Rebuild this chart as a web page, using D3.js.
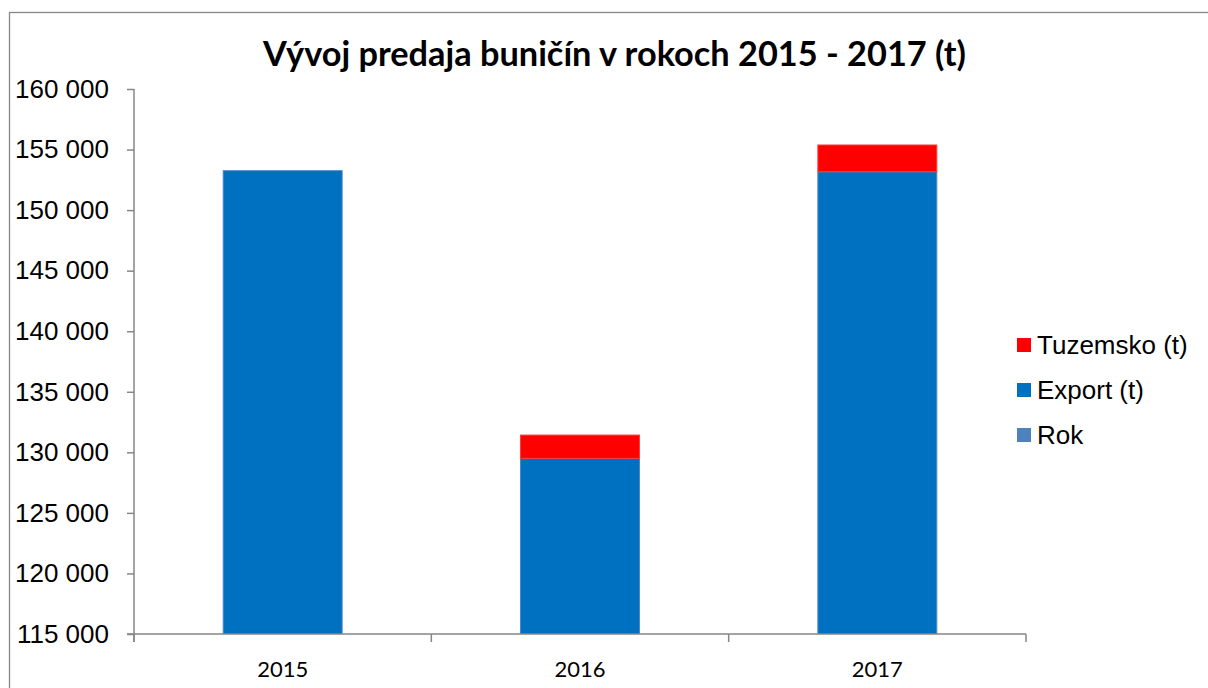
<!DOCTYPE html>
<html>
<head>
<meta charset="utf-8">
<script src="https://cdn.jsdelivr.net/npm/d3@7"></script>
<style>
  html, body { margin: 0; padding: 0; background: #fff; }
  svg { display: block; }
</style>
</head>
<body>
<svg id="chart" width="1208" height="688"></svg>
<script>
// ---- data ----
const title = "Vývoj predaja buničín v rokoch 2015 - 2017 (t)";
const categories = ["2015", "2016", "2017"];
const rok = [2015, 2016, 2017];
const exportT = [151240, 127490, 151150];
const tuzemsko = [0, 1920, 2210];
const seriesNames = ["Rok", "Export (t)", "Tuzemsko (t)"];
const yTicks = [115000, 120000, 125000, 130000, 135000, 140000, 145000, 150000, 155000, 160000];

const colors = { "Rok": "#4F81BD", "Export (t)": "#0070C0", "Tuzemsko (t)": "#FF0000" };

const svg = d3.select("#chart");
const W = 1208, H = 688;
const plot = { left: 134, right: 1026, top: 89, bottom: 634 };

// outer chart border (extends past the window on right/bottom)
svg.append("rect")
  .attr("x", 9.5).attr("y", 12.5)
  .attr("width", 1300).attr("height", 800)
  .attr("fill", "none").attr("stroke", "#878787").attr("stroke-width", 1.3);

// scales
const x = d3.scaleBand().domain(categories).range([plot.left, plot.right]).paddingInner(0.6).paddingOuter(0.3);
const xOuter = d3.scaleBand().domain(categories).range([plot.left, plot.right]);
const y = d3.scaleLinear().domain([115000, 160000]).range([plot.bottom, plot.top]);

// stack
const rows = categories.map((c, i) => ({ cat: c, "Rok": rok[i], "Export (t)": exportT[i], "Tuzemsko (t)": tuzemsko[i] }));
const stacked = d3.stack().keys(seriesNames)(rows);

svg.append("defs").append("clipPath").attr("id", "plotclip")
  .append("rect").attr("x", plot.left).attr("y", plot.top - 20)
  .attr("width", plot.right - plot.left).attr("height", plot.bottom - plot.top + 20);

const gBars = svg.append("g").attr("clip-path", "url(#plotclip)");
stacked.forEach(s => {
  gBars.append("g").selectAll("rect").data(s).join("rect")
    .attr("x", d => x(d.data.cat))
    .attr("width", x.bandwidth())
    .attr("y", d => y(d[1]))
    .attr("height", d => Math.max(0, y(d[0]) - y(d[1])))
    .attr("fill", colors[s.key])
    .attr("stroke", s.key === "Export (t)" ? "#4A86C6" : (s.key === "Tuzemsko (t)" ? "#FF3A3A" : "none"))
    .attr("stroke-width", 1)
    .style("display", d => (d[1] - d[0]) > 0 ? null : "none");
});

// y axis
const yAxis = d3.axisLeft(y).tickValues(yTicks).tickSize(7).tickPadding(18)
  .tickFormat(d => d3.format(",")(d).replace(/,/g, " "));
const gy = svg.append("g").attr("transform", `translate(${plot.left},0)`).call(yAxis);
gy.select(".domain").attr("stroke", "#868686").attr("stroke-width", 1.5).attr("d", `M0,${plot.top}V${plot.bottom + 8}`);
gy.selectAll(".tick line").attr("stroke", "#868686").attr("stroke-width", 1.5);
gy.selectAll(".tick text").attr("fill", "#000")
  .style("font-family", "'Liberation Sans', Arial, sans-serif").style("font-size", "26px");

// x axis
const gx = svg.append("g").attr("transform", `translate(0,${plot.bottom})`);
gx.append("line").attr("x1", plot.left - 7).attr("x2", plot.right)
  .attr("stroke", "#868686").attr("stroke-width", 1.5);
const boundaries = categories.map(c => xOuter(c)).concat([plot.right]);
gx.selectAll("line.tk").data(boundaries).join("line").attr("class", "tk")
  .attr("x1", d => d).attr("x2", d => d).attr("y1", 0).attr("y2", 8)
  .attr("stroke", "#868686").attr("stroke-width", 1.5);
gx.selectAll("text").data(categories).join("text")
  .attr("x", d => xOuter(d) + xOuter.bandwidth() / 2)
  .attr("y", 43)
  .attr("text-anchor", "middle")
  .style("font-family", "Lato, 'Open Sans', sans-serif").style("font-size", "22px")
  .attr("fill", "#000")
  .text(d => d);

// title
const t = svg.append("text")
  .attr("x", 614.5).attr("y", 66)
  .attr("text-anchor", "middle")
  .style("font-family", "Lato, 'Open Sans', sans-serif").style("font-weight", "bold").style("font-size", "29px")
  .attr("fill", "#000")
  .text(title);
const tw = t.node().getComputedTextLength();
const target = 703;
t.style("font-size", (29 * target / tw).toFixed(2) + "px");

// legend
const legendItems = seriesNames.slice().reverse();
const gl = svg.append("g");
const legY = d3.scalePoint().domain(legendItems).range([345, 435]);
legendItems.forEach(k => {
  gl.append("rect").attr("x", 1017).attr("y", legY(k) - 7).attr("width", 14).attr("height", 14)
    .attr("fill", colors[k]);
  gl.append("text").attr("x", 1037).attr("y", legY(k)).attr("dy", "0.35em")
    .style("font-family", "'Liberation Sans', Arial, sans-serif").style("font-size", "26px")
    .attr("fill", "#000").text(k);
});
</script>
</body>
</html>
